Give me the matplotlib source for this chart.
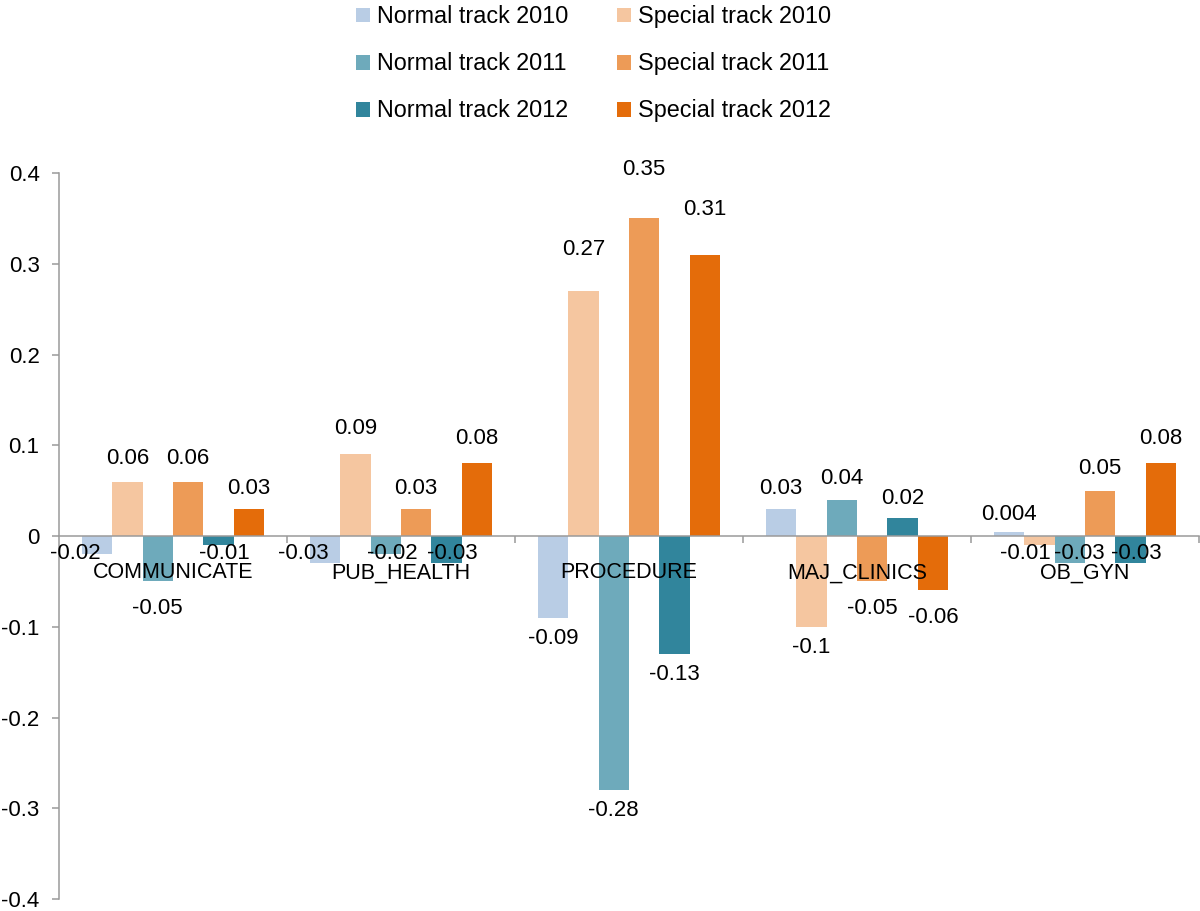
import numpy as np
import matplotlib
matplotlib.use("Agg")
import matplotlib.pyplot as plt
from matplotlib.patches import Patch

categories = ["COMMUNICATE", "PUB_HEALTH", "PROCEDURE", "MAJ_CLINICS", "OB_GYN"]

series_names = ["Normal track 2010", "Special track 2010",
                "Normal track 2011", "Special track 2011",
                "Normal track 2012", "Special track 2012"]

normal_2010 = [-0.02, -0.03, -0.09, 0.03, 0.004]
special_2010 = [0.06, 0.09, 0.27, -0.1, -0.01]
normal_2011 = [-0.05, -0.02, -0.28, 0.04, -0.03]
special_2011 = [0.06, 0.03, 0.35, -0.05, 0.05]
normal_2012 = [-0.01, -0.03, -0.13, 0.02, -0.03]
special_2012 = [0.03, 0.08, 0.31, -0.06, 0.08]

series = [normal_2010, special_2010, normal_2011, special_2011, normal_2012, special_2012]
colors = ["#b9cde5", "#f5c6a0", "#6eaabb", "#ed9b57", "#31859c", "#e46c0a"]

plt.rcParams["font.family"] = ["Liberation Sans", "DejaVu Sans"]
AXIS_GREY = "#9a9a9a"

fig = plt.figure(figsize=(12, 9.11), dpi=100)
ax = fig.add_axes([59 / 1200, 1 - 899 / 911, (1199 - 59) / 1200, (899 - 173) / 911])

n = len(series)
w = 0.8 / n
x = np.arange(len(categories))


def fmt(v):
    s = f"{v:.3f}".rstrip("0").rstrip(".")
    return s


for j, (vals, col) in enumerate(zip(series, colors)):
    xs = x + (j - (n - 1) / 2) * w
    ax.bar(xs, vals, width=w, color=col, linewidth=0, zorder=1)

# data labels, roughly like Excel's "outside end" placement
for i in range(len(categories)):
    small_neg = [j for j in range(n) if -0.04 < series[j][i] < 0]
    for j in range(n):
        v = series[j][i]
        xc = x[i] + (j - (n - 1) / 2) * w
        if v >= 0:
            yc = 1.1 * v + 0.019
        elif v > -0.04:
            yc = -0.019
            if j + 1 in small_neg:
                xc -= 0.45 * w
            elif j - 1 in small_neg:
                xc += 0.3 * w
            elif j == 0:
                xc -= 0.7 * w
            else:
                xc += 0.2 * w
        elif v > -0.07:
            yc = v - 0.03
        else:
            yc = v - 0.023
        ax.text(xc, yc, fmt(v), ha="center", va="center", fontsize=16, zorder=4)

ax.set_xlim(-0.5, len(categories) - 0.5)
ax.set_ylim(-0.4, 0.4)
ax.set_yticks(np.arange(-0.4, 0.41, 0.1))
ax.set_yticklabels(["-0.4", "-0.3", "-0.2", "-0.1", "0", "0.1", "0.2", "0.3", "0.4"])

ax.spines["top"].set_visible(False)
ax.spines["right"].set_visible(False)
ax.spines["bottom"].set_position(("data", 0))
for sp in ["left", "bottom"]:
    ax.spines[sp].set_color(AXIS_GREY)
    ax.spines[sp].set_linewidth(1.1)

ax.set_xticks(x)
ax.set_xticklabels(categories, fontsize=15.5)
ax.set_xticks(np.arange(0.5, len(categories), 1.0), minor=True)
ax.tick_params(axis="x", which="major", length=0, pad=19)
ax.tick_params(axis="x", which="minor", length=5, width=1.1, color=AXIS_GREY, direction="out")
ax.tick_params(axis="y", length=5, width=1.1, color=AXIS_GREY, direction="out",
               labelsize=16, pad=9)

order = [0, 2, 4, 1, 3, 5]
handles = [Patch(facecolor=colors[k], edgecolor="none") for k in order]
labels = [series_names[k] for k in order]
fig.legend(handles, labels, loc="upper left", bbox_to_anchor=(0.287, 1.007),
           ncol=2, frameon=False, fontsize=16.8, borderpad=0,
           handlelength=0.6, handleheight=0.6, handletextpad=0.3,
           labelspacing=1.03, columnspacing=2.1)

fig.savefig("out.png", dpi=100)
